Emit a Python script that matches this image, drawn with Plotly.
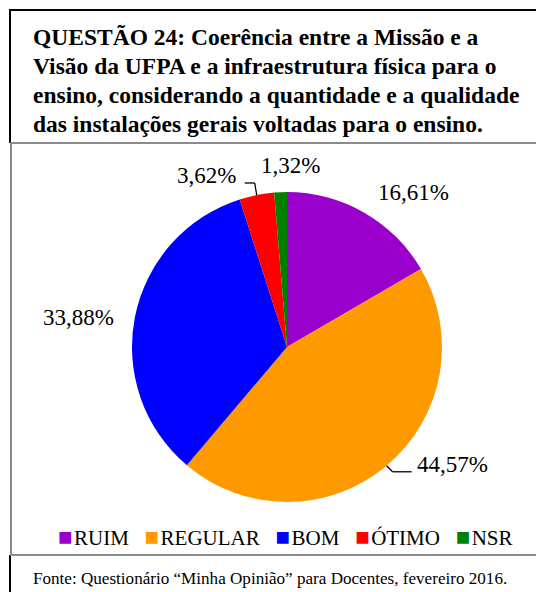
import math
import plotly.graph_objects as go

# ---- data ----
categories = ["RUIM", "REGULAR", "BOM", "ÓTIMO", "NSR"]
values = [16.61, 44.57, 33.88, 3.62, 1.32]
colors = ["#9900CC", "#FF9900", "#0000FF", "#FF0000", "#008000"]
title_lines = [
    "QUESTÃO 24: Coerência entre a Missão e a",
    "Visão da UFPA e a infraestrutura física para o",
    "ensino, considerando a quantidade e a qualidade",
    "das instalações gerais voltadas para o ensino.",
]
source_text = "Fonte: Questionário “Minha Opinião” para Docentes, fevereiro 2016."

# ---- layout constants (pixels) ----
W, H = 536, 592
CX, CY, R = 287, 347, 155
SERIF = "Liberation Serif"

def px(x):
    return x / W

def py(y):
    return 1 - y / H

# label offsets from each slice's outer mid-point (pixels)
label_offsets = [(49, -20), (66, -1), (-56, 1), (-50, -19), (10, -27)]
# leader line elbows (relative to the slice's outer mid-point), None = no leader
leaders = [None, [(6, 6), (25, 6)], None, [(-2, -12), (-12, -12)], None]

fig = go.Figure()
fig.add_trace(go.Pie(
    labels=categories,
    values=values,
    marker=dict(colors=colors, line=dict(width=0)),
    sort=False,
    direction="clockwise",
    rotation=0,
    textinfo="none",
    hoverinfo="label+percent",
    showlegend=False,
    domain=dict(x=[px(CX - R), px(CX + R)], y=[py(CY + R), py(CY - R)]),
))

annotations = []
shapes = []

# percentage labels computed from the data
total = sum(values)
cum = 0.0
for i, v in enumerate(values):
    mid = (cum + v / 2) / total * 2 * math.pi
    cum += v
    ex = CX + R * math.sin(mid)
    ey = CY - R * math.cos(mid)
    dx, dy = label_offsets[i]
    annotations.append(dict(
        x=px(ex + dx), y=py(ey + dy), xref="paper", yref="paper",
        text=f"{v:.2f}%".replace(".", ","), showarrow=False,
        xanchor="center", yanchor="middle",
        font=dict(family=SERIF, size=23, color="#000000"),
    ))
    if leaders[i]:
        pts = [(ex, ey)] + [(ex + a, ey + b) for a, b in leaders[i]]
        for (x0, y0), (x1, y1) in zip(pts[:-1], pts[1:]):
            shapes.append(dict(type="line", xref="paper", yref="paper",
                               x0=px(x0), y0=py(y0), x1=px(x1), y1=py(y1),
                               line=dict(color="#000000", width=1.3)))

# title lines
for k, line in enumerate(title_lines):
    annotations.append(dict(
        x=px(31), y=py(37 + 29 * k), xref="paper", yref="paper",
        text=f"<b>{line}</b>", showarrow=False,
        xanchor="left", yanchor="middle",
        font=dict(family=SERIF, size=23.5, color="#000000"),
    ))

# legend built from the categories
nb = "\u00a0"
parts = []
for c, col in zip(categories, colors):
    parts.append(
        f'<span style="color:{col};font-size:24px">■</span>'
        f'<span style="font-size:6px">{nb}</span>{c}'
    )
legend_text = (nb * 3).join(parts)
annotations.append(dict(
    x=px(285), y=py(537), xref="paper", yref="paper",
    text=legend_text, showarrow=False, xanchor="center", yanchor="middle",
    font=dict(family=SERIF, size=21, color="#000000"),
))

# source
annotations.append(dict(
    x=px(31), y=py(578), xref="paper", yref="paper",
    text=source_text, showarrow=False, xanchor="left", yanchor="middle",
    font=dict(family=SERIF, size=17.1, color="#000000"),
))

# frames
def hline(y, x0, x1, color, w):
    shapes.append(dict(type="line", xref="paper", yref="paper",
                       x0=px(x0), x1=px(x1), y0=py(y), y1=py(y),
                       line=dict(color=color, width=w)))

def vline(x, y0, y1, color, w):
    shapes.append(dict(type="line", xref="paper", yref="paper",
                       x0=px(x), x1=px(x), y0=py(y0), y1=py(y1),
                       line=dict(color=color, width=w)))

hline(10, 9, 545, "#000000", 2)
vline(10, 9, 143, "#000000", 2)
vline(11, 143, 555, "#8c8c8c", 2)
vline(10, 555, 600, "#000000", 2)
hline(143, 10, 545, "#8c8c8c", 2)
hline(555, 10, 545, "#8c8c8c", 2)

fig.update_layout(
    width=W, height=H,
    margin=dict(l=0, r=0, t=0, b=0),
    paper_bgcolor="#ffffff",
    plot_bgcolor="#ffffff",
    annotations=annotations,
    shapes=shapes,
)

fig.write_html(
    "out.html",
    config={"displayModeBar": False},
    post_script="document.body.style.margin='0';",
)
